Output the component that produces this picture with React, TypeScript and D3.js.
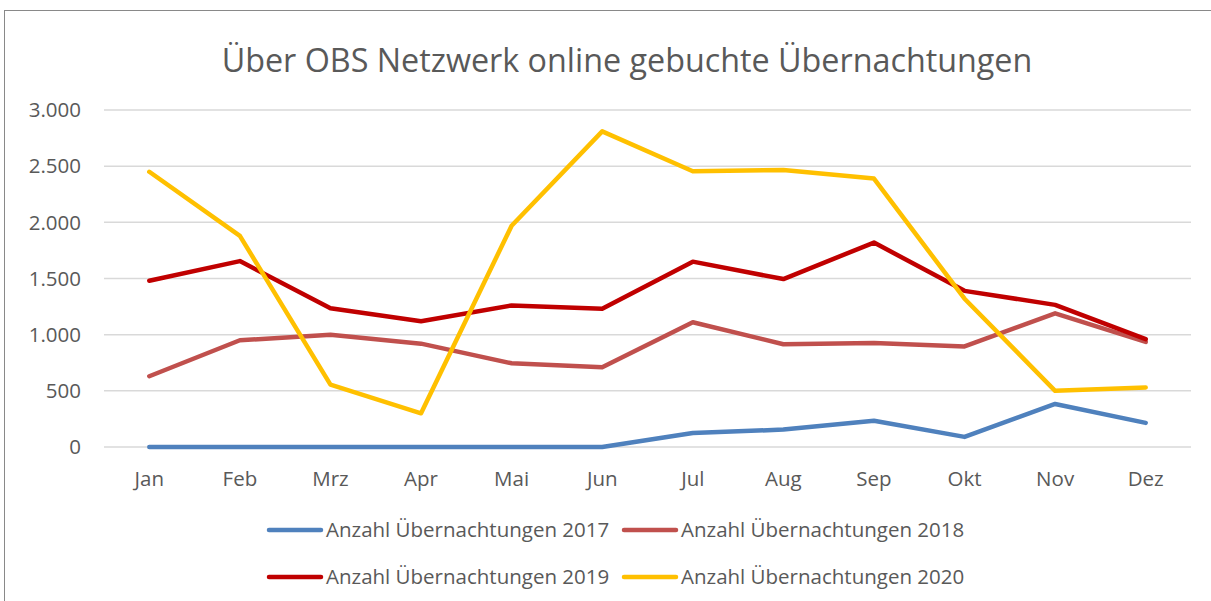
import React from "react";
import * as d3 from "d3";

const months = ["Jan", "Feb", "Mrz", "Apr", "Mai", "Jun", "Jul", "Aug", "Sep", "Okt", "Nov", "Dez"];
const values2017 = [0, 0, 0, 0, 0, 0, 125, 155, 233, 90, 383, 215];
const values2018 = [630, 950, 1000, 920, 745, 710, 1110, 915, 925, 895, 1190, 935];
const values2019 = [1480, 1655, 1235, 1120, 1260, 1230, 1650, 1495, 1820, 1390, 1265, 960];
const values2020 = [2450, 1880, 555, 300, 1970, 2810, 2455, 2465, 2390, 1320, 500, 530];
const yTicks = [0, 500, 1000, 1500, 2000, 2500, 3000];

const series = [
  { name: "Anzahl Übernachtungen 2017", values: values2017, color: "#4F81BD" },
  { name: "Anzahl Übernachtungen 2018", values: values2018, color: "#C0504D" },
  { name: "Anzahl Übernachtungen 2019", values: values2019, color: "#C00000" },
  { name: "Anzahl Übernachtungen 2020", values: values2020, color: "#FFC000" },
];

const fmt = (v: number) => d3.format(",")(v).replace(/,/g, ".");

const App = () => {
  const width = 1211;
  const height = 601;
  const margin = { top: 110, left: 104, right: 1191, bottom: 447 };
  const font = "'Open Sans', sans-serif";
  const textColor = "#595959";
  const labelSize = 20.5;

  const x = d3.scaleBand().domain(months).range([margin.left, margin.right]);
  const y = d3.scaleLinear().domain([0, 3000]).range([margin.bottom, margin.top]);

  const line = d3
    .line<number>()
    .x((d, i) => (x(months[i]) as number) + x.bandwidth() / 2)
    .y((d) => y(d));

  // legend layout: 2 per row
  const legendPos = [
    { x: 267, y: 530 },
    { x: 622, y: 530 },
    { x: 267, y: 577 },
    { x: 622, y: 577 },
  ];

  return (
    <div style={{ position: "fixed", left: 0, top: 0 }}>
      <svg width={width} height={height} style={{ display: "block", background: "#fff" }}>
        <rect x={4.5} y={10.5} width={1220} height={620} fill="#fff" stroke="#898989" strokeWidth={1} />
        <text
          x={627}
          y={72}
          textAnchor="middle"
          fontFamily={font}
          fontSize={32.3}
          fill={textColor}
        >
          Über OBS Netzwerk online gebuchte Übernachtungen
        </text>

        {/* gridlines */}
        {yTicks.map((t) => (
          <g key={t}>
            <line x1={margin.left} x2={margin.right} y1={y(t)} y2={y(t)} stroke="#d9d9d9" strokeWidth={1.5} />
            <text
              x={81}
              y={y(t)}
              dy="0.35em"
              textAnchor="end"
              fontFamily={font}
              fontSize={labelSize}
              fill={textColor}
            >
              {fmt(t)}
            </text>
          </g>
        ))}

        {/* x labels */}
        {months.map((m) => (
          <text
            key={m}
            x={(x(m) as number) + x.bandwidth() / 2}
            y={486}
            textAnchor="middle"
            fontFamily={font}
            fontSize={labelSize}
            fill={textColor}
          >
            {m}
          </text>
        ))}

        {/* lines */}
        {series.map((s) => (
          <path
            key={s.name}
            d={line(s.values) || ""}
            fill="none"
            stroke={s.color}
            strokeWidth={4.5}
            strokeLinejoin="round"
            strokeLinecap="round"
          />
        ))}

        {/* legend */}
        {series.map((s, i) => (
          <g key={s.name} transform={`translate(${legendPos[i].x},${legendPos[i].y})`}>
            <line x1={2} x2={54} y1={0} y2={0} stroke={s.color} strokeWidth={4.5} strokeLinecap="round" />
            <text x={59} y={0} dy="0.35em" fontFamily={font} fontSize={labelSize} fill={textColor}>
              {s.name}
            </text>
          </g>
        ))}
      </svg>
    </div>
  );
};

export default App;
